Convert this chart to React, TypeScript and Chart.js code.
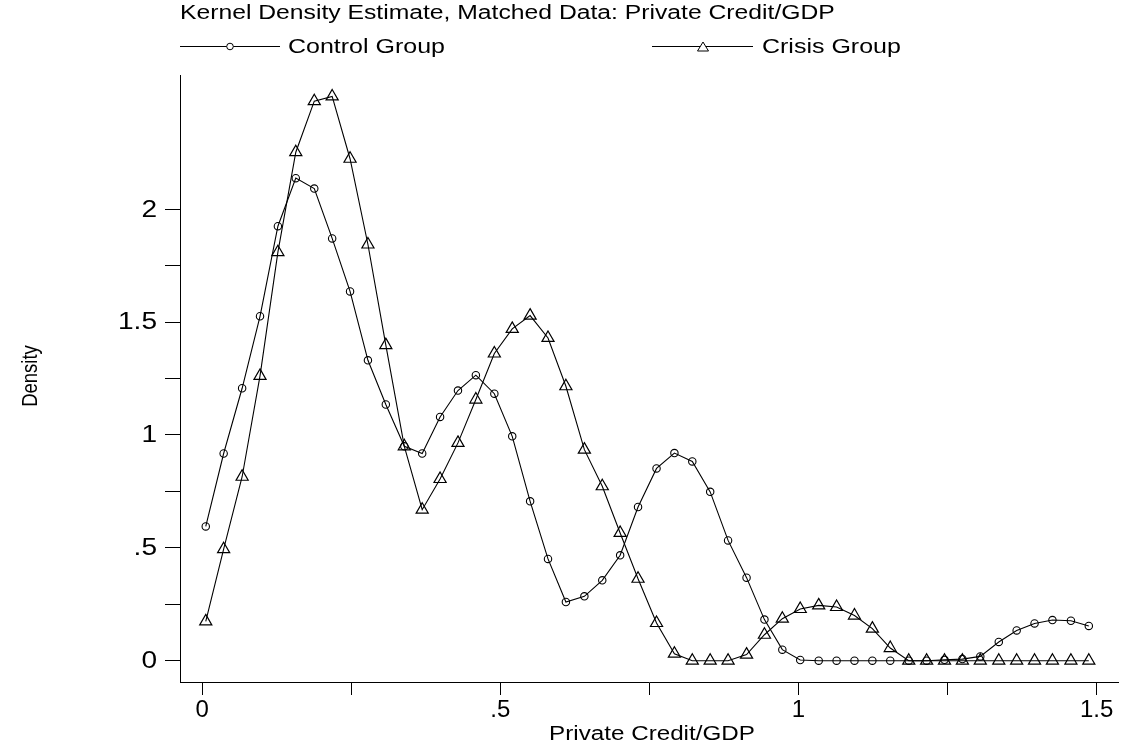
import React, { useEffect, useRef } from "react";
import { Chart, registerables } from "chart.js";

Chart.register(...registerables);

const TITLE = "Kernel Density Estimate, Matched Data: Private Credit/GDP";
const X_TITLE = "Private Credit/GDP";
const Y_TITLE = "Density";
const SERIES_NAMES = ["Control Group", "Crisis Group"];

// Evaluation grid of the kernel density estimate
const X_GRID = [
  0.006, 0.036, 0.067, 0.097, 0.127, 0.157, 0.188, 0.218, 0.248, 0.278,
  0.308, 0.339, 0.369, 0.399, 0.429, 0.459, 0.49, 0.52, 0.55, 0.58,
  0.61, 0.641, 0.671, 0.701, 0.731, 0.762, 0.792, 0.822, 0.852, 0.882,
  0.913, 0.943, 0.973, 1.003, 1.034, 1.064, 1.094, 1.124, 1.154, 1.185,
  1.215, 1.245, 1.275, 1.305, 1.336, 1.366, 1.396, 1.426, 1.457, 1.487,
];

const CONTROL = [
  0.595, 0.918, 1.207, 1.526, 1.925, 2.138, 2.092, 1.871, 1.636, 1.331,
  1.135, 0.95, 0.918, 1.08, 1.197, 1.265, 1.183, 0.994, 0.706, 0.451,
  0.26, 0.285, 0.356, 0.467, 0.681, 0.852, 0.92, 0.883, 0.748, 0.533,
  0.368, 0.182, 0.049, 0.003, 0, 0, 0, 0, 0, 0,
  0, 0.004, 0.007, 0.019, 0.083, 0.134, 0.165, 0.18, 0.177, 0.154,
];

const CRISIS = [
  0.174, 0.494, 0.815, 1.262, 1.81, 2.253, 2.479, 2.5, 2.224, 1.844,
  1.398, 0.95, 0.669, 0.805, 0.965, 1.157, 1.361, 1.47, 1.529, 1.43,
  1.216, 0.935, 0.773, 0.566, 0.363, 0.167, 0.031, 0, 0, 0,
  0.027, 0.115, 0.186, 0.229, 0.245, 0.238, 0.2, 0.142, 0.056, 0,
  0, 0, 0, 0, 0, 0, 0, 0, 0, 0,
];

const X_TICKS = [0, 0.25, 0.5, 0.75, 1, 1.25, 1.5];
const X_TICK_LABELS = ["0", "", ".5", "", "1", "", "1.5"];
const Y_TICKS = [0, 0.25, 0.5, 0.75, 1, 1.25, 1.5, 1.75, 2];
const Y_TICK_LABELS = ["0", "", ".5", "", "1", "", "1.5", "", "2"];

const FONT = '"Liberation Sans", Arial, Helvetica, sans-serif';

const labelFor = (ticks: number[], labels: string[]) => (v: number | string) => {
  const i = ticks.findIndex((t) => Math.abs(t - Number(v)) < 1e-9);
  return i >= 0 ? labels[i] : "";
};

// Text drawn with a horizontal stretch factor
function wideText(
  ctx: CanvasRenderingContext2D,
  text: string,
  x: number,
  y: number,
  size: number,
  sx: number,
  align: CanvasTextAlign,
  baseline: CanvasTextBaseline
) {
  ctx.save();
  ctx.translate(x, y);
  ctx.scale(sx, 1);
  ctx.font = `${size}px ${FONT}`;
  ctx.textAlign = align;
  ctx.textBaseline = baseline;
  ctx.fillText(text, 0, 0);
  ctx.restore();
}

export default function App() {
  const ref = useRef<HTMLCanvasElement | null>(null);

  useEffect(() => {
    document.body.style.margin = "0";
    const canvas = ref.current;
    if (!canvas) return;

    const textPlugin = {
      id: "kdTexts",
      afterDraw(chart: any) {
        const ctx: CanvasRenderingContext2D = chart.ctx;
        ctx.save();
        ctx.fillStyle = "#000";
        ctx.strokeStyle = "#000";
        ctx.lineWidth = 1;

        // title
        wideText(ctx, TITLE, 180, 18.5, 20, 1.235, "left", "alphabetic");

        // legend
        const legendY = 46.5;
        const items = [
          { x0: 180, x1: 280, tx: 288, kind: "circle" },
          { x0: 652, x1: 753, tx: 762, kind: "triangle" },
        ];
        items.forEach((it, i) => {
          ctx.beginPath();
          ctx.moveTo(it.x0, legendY);
          ctx.lineTo(it.x1, legendY);
          ctx.stroke();
          const mx = Math.round((it.x0 + it.x1) / 2);
          ctx.save();
          ctx.fillStyle = "#fff";
          ctx.beginPath();
          if (it.kind === "circle") {
            ctx.arc(mx, legendY, 3.3, 0, Math.PI * 2);
          } else {
            ctx.moveTo(mx, legendY - 4.5);
            ctx.lineTo(mx + 5.5, legendY + 4.5);
            ctx.lineTo(mx - 5.5, legendY + 4.5);
            ctx.closePath();
          }
          ctx.fill();
          ctx.stroke();
          ctx.restore();
          wideText(ctx, SERIES_NAMES[i], it.tx, 53, 21, 1.19, "left", "alphabetic");
        });

        // y tick labels
        const ys = chart.scales.y;
        Y_TICKS.forEach((v, i) => {
          const lab = Y_TICK_LABELS[i];
          if (!lab) return;
          wideText(ctx, lab, 157, ys.getPixelForValue(v) + 1, 23, 1.22, "right", "middle");
        });

        // axis titles
        wideText(ctx, X_TITLE, 652, 734, 20, 1.21, "center", "middle");

        ctx.save();
        ctx.translate(31, 376);
        ctx.rotate(-Math.PI / 2);
        ctx.scale(1, 1.15);
        ctx.font = `18.5px ${FONT}`;
        ctx.textAlign = "center";
        ctx.textBaseline = "middle";
        ctx.fillText(Y_TITLE, 0, 0);
        ctx.restore();

        ctx.restore();
      },
    };

    const chart = new Chart(canvas, {
      type: "line",
      data: {
        datasets: [
          {
            label: SERIES_NAMES[0],
            data: X_GRID.map((x, i) => ({ x, y: CONTROL[i] })),
            borderColor: "#000",
            borderWidth: 1.1,
            pointStyle: "circle",
            pointRadius: 3.7,
            pointBorderWidth: 1.1,
            pointBorderColor: "#000",
            pointBackgroundColor: "rgba(0,0,0,0)",
            tension: 0,
            fill: false,
          },
          {
            label: SERIES_NAMES[1],
            data: X_GRID.map((x, i) => ({ x, y: CRISIS[i] })),
            borderColor: "#000",
            borderWidth: 1.1,
            pointStyle: "triangle",
            pointRadius: 7,
            pointBorderWidth: 1.2,
            pointBorderColor: "#000",
            pointBackgroundColor: "rgba(0,0,0,0)",
            tension: 0,
            fill: false,
          },
        ],
      },
      options: {
        animation: false,
        responsive: false,
        devicePixelRatio: 1,
        layout: { padding: { left: 0, top: 75, right: 4, bottom: 0 } },
        plugins: {
          legend: { display: false },
          title: { display: false },
          tooltip: { enabled: false },
        },
        scales: {
          x: {
            type: "linear",
            min: -0.0372,
            max: 1.5373,
            afterBuildTicks: (s: any) => {
              s.ticks = X_TICKS.map((v) => ({ value: v }));
            },
            afterFit: (s: any) => {
              s.height = 69;
            },
            grid: {
              drawOnChartArea: false,
              drawTicks: true,
              tickLength: 13,
              color: "#000",
              lineWidth: 1,
            },
            border: { display: true, color: "#000", width: 1 },
            ticks: {
              callback: labelFor(X_TICKS, X_TICK_LABELS),
              font: { family: FONT, size: 24 },
              color: "#000",
              padding: 1,
              maxRotation: 0,
              autoSkip: false,
            },
          },
          y: {
            type: "linear",
            min: -0.0944,
            max: 2.595,
            afterBuildTicks: (s: any) => {
              s.ticks = Y_TICKS.map((v) => ({ value: v }));
            },
            afterFit: (s: any) => {
              s.width = 180;
            },
            grid: {
              drawOnChartArea: false,
              drawTicks: true,
              tickLength: 15,
              color: "#000",
              lineWidth: 1,
            },
            border: { display: true, color: "#000", width: 1 },
            ticks: {
              display: false,
              autoSkip: false,
            },
          },
        },
      },
      plugins: [textPlugin],
    });

    return () => chart.destroy();
  }, []);

  return (
    <div style={{ width: 1127, height: 751, background: "#fff" }}>
      <canvas ref={ref} width={1127} height={751} style={{ display: "block" }} />
    </div>
  );
}
